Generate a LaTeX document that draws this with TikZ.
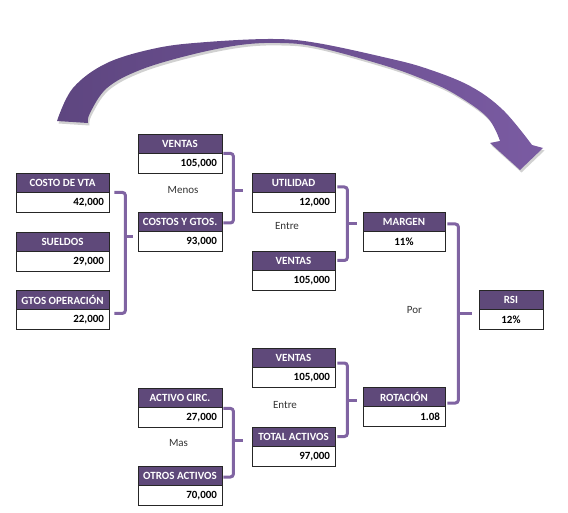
\documentclass[tikz,border=0pt]{standalone}
\usepackage{fontspec}
\setmainfont{Carlito}
\definecolor{hdrc}{HTML}{5F497A}
\definecolor{brkc}{HTML}{8064A2}
\definecolor{arrA}{HTML}{5E4680}
\definecolor{arrB}{HTML}{8A69B2}
\definecolor{arrC}{HTML}{7A5BA2}
\newcommand\myarrowpath{plot[smooth, tension=0.6] coordinates {(57,121) (73,88) (107,63) (157,48) (207,42) (273,39) (317,43) (383,57) (425,68) (470,86) (503,110) (532,145)} -- (543,148) -- (520,170) -- (490,143) -- plot[smooth, tension=0.6] coordinates {(500,141) (487,117) (453,93) (420,78) (383,65) (317,47) (280,43) (240,45) (190,55) (140,70) (107,88) (90,113) (88,123)} -- cycle}
\begin{document}
\begin{tikzpicture}[x=1pt,y=-1pt,
  font=\fontsize{11}{13}\selectfont,
  hdr/.style={draw=black!85, fill=hdrc, text=white, font=\fontsize{11}{13}\selectfont\bfseries, minimum height=19, minimum width=#1, inner sep=0, line width=0.8},
  val/.style={draw=black!85, fill=white, font=\fontsize{11}{13}\selectfont\bfseries, minimum height=20, text width=#1, align=right, inner xsep=5, inner ysep=0, line width=0.8, anchor=north},
  valc/.style={val=#1, align=center},
  brk/.style={draw=brkc, line width=3, rounded corners=3},
  nub/.style={draw=brkc, line width=3},
  lbl/.style={text=black!80, inner sep=1}]
\useasboundingbox (0,0) rectangle (568,513);
% big arrow
\fill[black, opacity=0.18, shift={(1.5,2.5)}] \myarrowpath;
\shade[left color=arrA, middle color=arrB, right color=arrC] \myarrowpath;
% boxes
\node[hdr=93] (cvh) at (62.5,182.5) {COSTO DE VTA};
\node[val=83] (cvv) at (cvh.south) {42,000};
\node[hdr=93] (suh) at (62.5,241.5) {SUELDOS};
\node[val=83] (suv) at (suh.south) {29,000};
\node[hdr=93] (goh) at (62.5,299.5) {GTOS OPERACIÓN};
\node[val=83] (gov) at (goh.south) {22,000};
\node[hdr=84] (v1h) at (180,143.5) {VENTAS};
\node[val=74] (v1v) at (v1h.south) {105,000};
\node[hdr=84] (cgh) at (180,221.5) {COSTOS Y GTOS.};
\node[val=74] (cgv) at (cgh.south) {93,000};
\node[hdr=83] (uth) at (293.5,182.5) {UTILIDAD};
\node[val=73] (utv) at (uth.south) {12,000};
\node[hdr=83] (v2h) at (293.5,260.5) {VENTAS};
\node[val=73] (v2v) at (v2h.south) {105,000};
\node[hdr=82] (mgh) at (404,221.5) {MARGEN};
\node[valc=72] (mgv) at (mgh.south) {11\%};
\node[hdr=64] (rsh) at (511,299.5) {RSI};
\node[valc=54] (rsv) at (rsh.south) {12\%};
\node[hdr=83] (v3h) at (293.5,357.5) {VENTAS};
\node[val=73] (v3v) at (v3h.south) {105,000};
\node[hdr=83] (tah) at (293.5,436.5) {TOTAL ACTIVOS};
\node[val=73] (tav) at (tah.south) {97,000};
\node[hdr=84] (ach) at (180,397.5) {ACTIVO CIRC.};
\node[val=74] (acv) at (ach.south) {27,000};
\node[hdr=84] (oah) at (180,475.5) {OTROS ACTIVOS};
\node[val=74] (oav) at (oah.south) {70,000};
\node[hdr=82] (roh) at (404,396.5) {ROTACIÓN};
\node[val=72] (rov) at (roh.south) {1.08};
% labels
\node[lbl] (menos) at (183,190) {Menos};
\node[lbl] (entre1) at (287,226) {Entre};
\node[lbl] (por) at (414.5,310) {Por};
\node[lbl] (entre2) at (285,405) {Entre};
\node[lbl] (mas) at (178.5,443) {Mas};
% brackets
\draw[brk] ([xshift=5]cvh.south east) -- ++(11,0) |- ([xshift=5,yshift=-4]goh.south east);
\draw[nub] ([xshift=-5,yshift=-5]cgh.south west) -- ++(-8,0);
\draw[brk] ([xshift=1]v1h.south east) -- ++(10,0) |- ([xshift=1,yshift=-1.5]cgh.east);
\draw[nub] ([xshift=-9,yshift=2]uth.south west) -- ++(-10,0);
\draw[brk] ([xshift=2,yshift=-4.5]uth.east) -- ++(10,0) |- ([xshift=2]v2h.east);
\draw[nub] ([xshift=-6,yshift=-2.5]mgh.west) -- ++(-10,0);
\draw[brk] ([xshift=2,yshift=-2.5]mgh.east) -- ++(11,0) |- ([xshift=2,yshift=-6.5]roh.east);
\draw[nub] ([xshift=-7,yshift=-4]rsh.south west) -- ++(-14,0);
\draw[brk] ([xshift=2,yshift=-5.5]v3h.east) -- ++(10,0) |- ([xshift=2]tah.east);
\draw[nub] ([xshift=-6,yshift=-3.5]roh.west) -- ++(-10,0);
\draw[brk] ([xshift=1,yshift=-1]ach.south east) -- ++(10,0) |- ([xshift=1,yshift=-1.5]oah.east);
\draw[nub] ([xshift=-9,yshift=-3.5]tah.west) -- ++(-10,0);
\end{tikzpicture}
\end{document}
